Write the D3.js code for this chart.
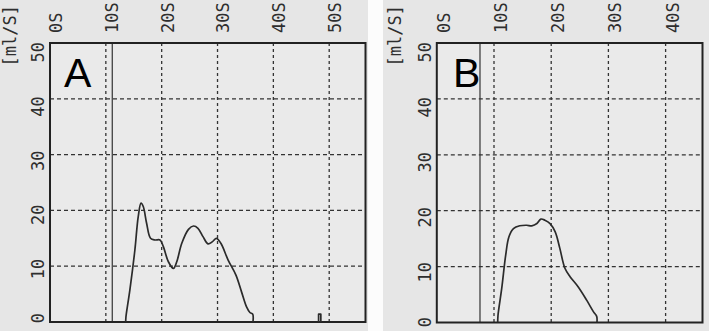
<!DOCTYPE html>
<html>
<head>
<meta charset="utf-8">
<script src="https://cdn.jsdelivr.net/npm/d3@7"></script>
<style>
  html, body { margin: 0; padding: 0; background: #fcfcfc; }
  svg { display: block; }
</style>
</head>
<body>
<svg id="chart" width="709" height="331"></svg>
<script>
// flow curves [seconds, ml/s]
const flowA = [
  [13.55, 0], [13.6, 0.9], [14.3, 5.7], [15.2, 12.9], [15.8, 18.9], [16.3, 21.3],
  [16.7, 20.7], [17.3, 17.7], [18.0, 15.0], [18.8, 14.7], [19.7, 14.7], [20.3, 13.5],
  [21.2, 10.8], [22.1, 9.6], [22.7, 10.8], [23.6, 14.1], [24.8, 16.6], [25.7, 17.2],
  [26.5, 16.8], [27.4, 15.3], [28.3, 14.0], [29.1, 14.4], [29.8, 15.0], [30.6, 14.1],
  [31.9, 11.1], [33.3, 8.4], [34.3, 5.4], [35.2, 2.7], [35.8, 1.7], [36.3, 1.4], [36.35, 0]
];
const spikeA = [[48.1, 0], [48.1, 1.4], [48.5, 1.4], [48.5, 0]];
const flowB = [
  [10.65, 0], [10.7, 1.3], [11.35, 6.1], [12.05, 12.1], [12.6, 15.3], [13.4, 16.8],
  [14.5, 17.3], [15.7, 17.4], [16.6, 17.3], [17.5, 17.7], [18.2, 18.5], [18.9, 18.3],
  [19.8, 17.7], [20.7, 16.2], [21.5, 13.3], [22.4, 9.7], [23.3, 8.2], [24.7, 6.4],
  [26.2, 4.0], [27.4, 1.9], [27.95, 1.1], [28.0, 0]
];

const timeTicksA = [0, 10, 20, 30, 40, 50];
const timeTicksB = [0, 10, 20, 30, 40];
const flowTicks = [0, 10, 20, 30, 40, 50];
const unitLabel = "[ml/S]";

const svg = d3.select("#chart");
const ink = "#222";
const monoFont = "'DejaVu Sans Mono', 'Liberation Mono', monospace";

function drawPanel(p) {
  const g = svg.append("g");

  // paper
  g.append("rect")
    .attr("x", p.paper[0]).attr("y", 0)
    .attr("width", p.paper[1] - p.paper[0]).attr("height", 331)
    .attr("fill", "#e6e6e6");

  const x = d3.scaleLinear().domain([0, p.xMax]).range([p.left, p.right]);
  const y = d3.scaleLinear().domain([0, 50]).range([p.bottom, p.top]);
  // printed labels drift a little from the grid
  const yLab = d3.scaleLinear().domain([0, 50]).range(p.labRange);

  g.append("rect")
    .attr("x", p.left).attr("y", p.top)
    .attr("width", p.right - p.left).attr("height", p.bottom - p.top)
    .attr("fill", "#eaeaea");

  // dashed grid
  g.append("g").selectAll("line")
    .data(flowTicks.filter(d => d > 0 && d < 50))
    .join("line")
    .attr("x1", p.left).attr("x2", p.right)
    .attr("y1", d => y(d)).attr("y2", d => y(d))
    .attr("stroke", "#333").attr("stroke-width", 1.2)
    .attr("stroke-dasharray", "4,3");

  g.append("g").selectAll("line")
    .data(p.timeTicks.filter(d => d > 0))
    .join("line")
    .attr("x1", d => x(d)).attr("x2", d => x(d))
    .attr("y1", p.top).attr("y2", p.bottom)
    .attr("stroke", "#333").attr("stroke-width", 1.3)
    .attr("stroke-dasharray", "3,3");

  // start marker
  g.append("line")
    .attr("x1", x(p.marker)).attr("x2", x(p.marker))
    .attr("y1", p.top).attr("y2", p.bottom)
    .attr("stroke", "#333").attr("stroke-width", 1.2);

  // frame
  g.append("rect")
    .attr("x", p.left).attr("y", p.top)
    .attr("width", p.right - p.left).attr("height", p.bottom - p.top)
    .attr("fill", "none").attr("stroke", ink).attr("stroke-width", 2);

  // time labels, rotated
  g.append("g").selectAll("text")
    .data(p.timeTicks)
    .join("text")
    .attr("transform", d => `translate(${x(d) + p.xLabShift},33) rotate(-90)`)
    .attr("dy", "0.35em")
    .attr("text-anchor", "start")
    .attr("font-family", monoFont).attr("font-size", 17)
    .attr("fill", "#2e2e2e")
    .text(d => d + "S");

  // flow labels, rotated
  g.append("g").selectAll("text")
    .data(flowTicks)
    .join("text")
    .attr("transform", d => `translate(${p.left - 12},${yLab(d)}) rotate(-90)`)
    .attr("dy", "0.35em")
    .attr("text-anchor", "end")
    .attr("font-family", monoFont).attr("font-size", 17)
    .attr("fill", "#2e2e2e")
    .text(d => d);

  g.append("text")
    .attr("transform", `translate(${p.unitX},5) rotate(-90)`)
    .attr("dy", "0.35em")
    .attr("text-anchor", "end")
    .attr("font-family", monoFont).attr("font-size", 17)
    .attr("fill", "#2e2e2e")
    .text(unitLabel);

  // panel letter
  g.append("text")
    .attr("x", p.letterX).attr("y", 87)
    .attr("font-family", "'Liberation Sans', Arial, sans-serif")
    .attr("font-size", 41)
    .attr("fill", "#000")
    .text(p.letter);

  p.curves.forEach(c => {
    const line = d3.line()
      .x(d => x(d[0])).y(d => y(d[1]))
      .curve(c.curve);
    g.append("path")
      .datum(c.data)
      .attr("d", line)
      .attr("fill", "none")
      .attr("stroke", "#2b2b2b")
      .attr("stroke-width", 1.7)
      .attr("stroke-linejoin", "round");
  });
}

drawPanel({
  letter: "A", paper: [0, 368],
  left: 50, right: 365.5, top: 43, bottom: 322, xMax: 56.5,
  labRange: [313, 42], xLabShift: 6, unitX: 10.5, letterX: 64,
  timeTicks: timeTicksA, marker: 11.15,
  curves: [
    { data: flowA, curve: d3.curveCatmullRom.alpha(0.5) },
    { data: spikeA, curve: d3.curveLinear }
  ]
});

drawPanel({
  letter: "B", paper: [383, 709],
  left: 436.8, right: 702.5, top: 43, bottom: 322.5, xMax: 46.45,
  labRange: [317, 42], xLabShift: 7, unitX: 395, letterX: 453,
  timeTicks: timeTicksB, marker: 7.55,
  curves: [
    { data: flowB, curve: d3.curveCatmullRom.alpha(0.5) }
  ]
});
</script>
</body>
</html>
